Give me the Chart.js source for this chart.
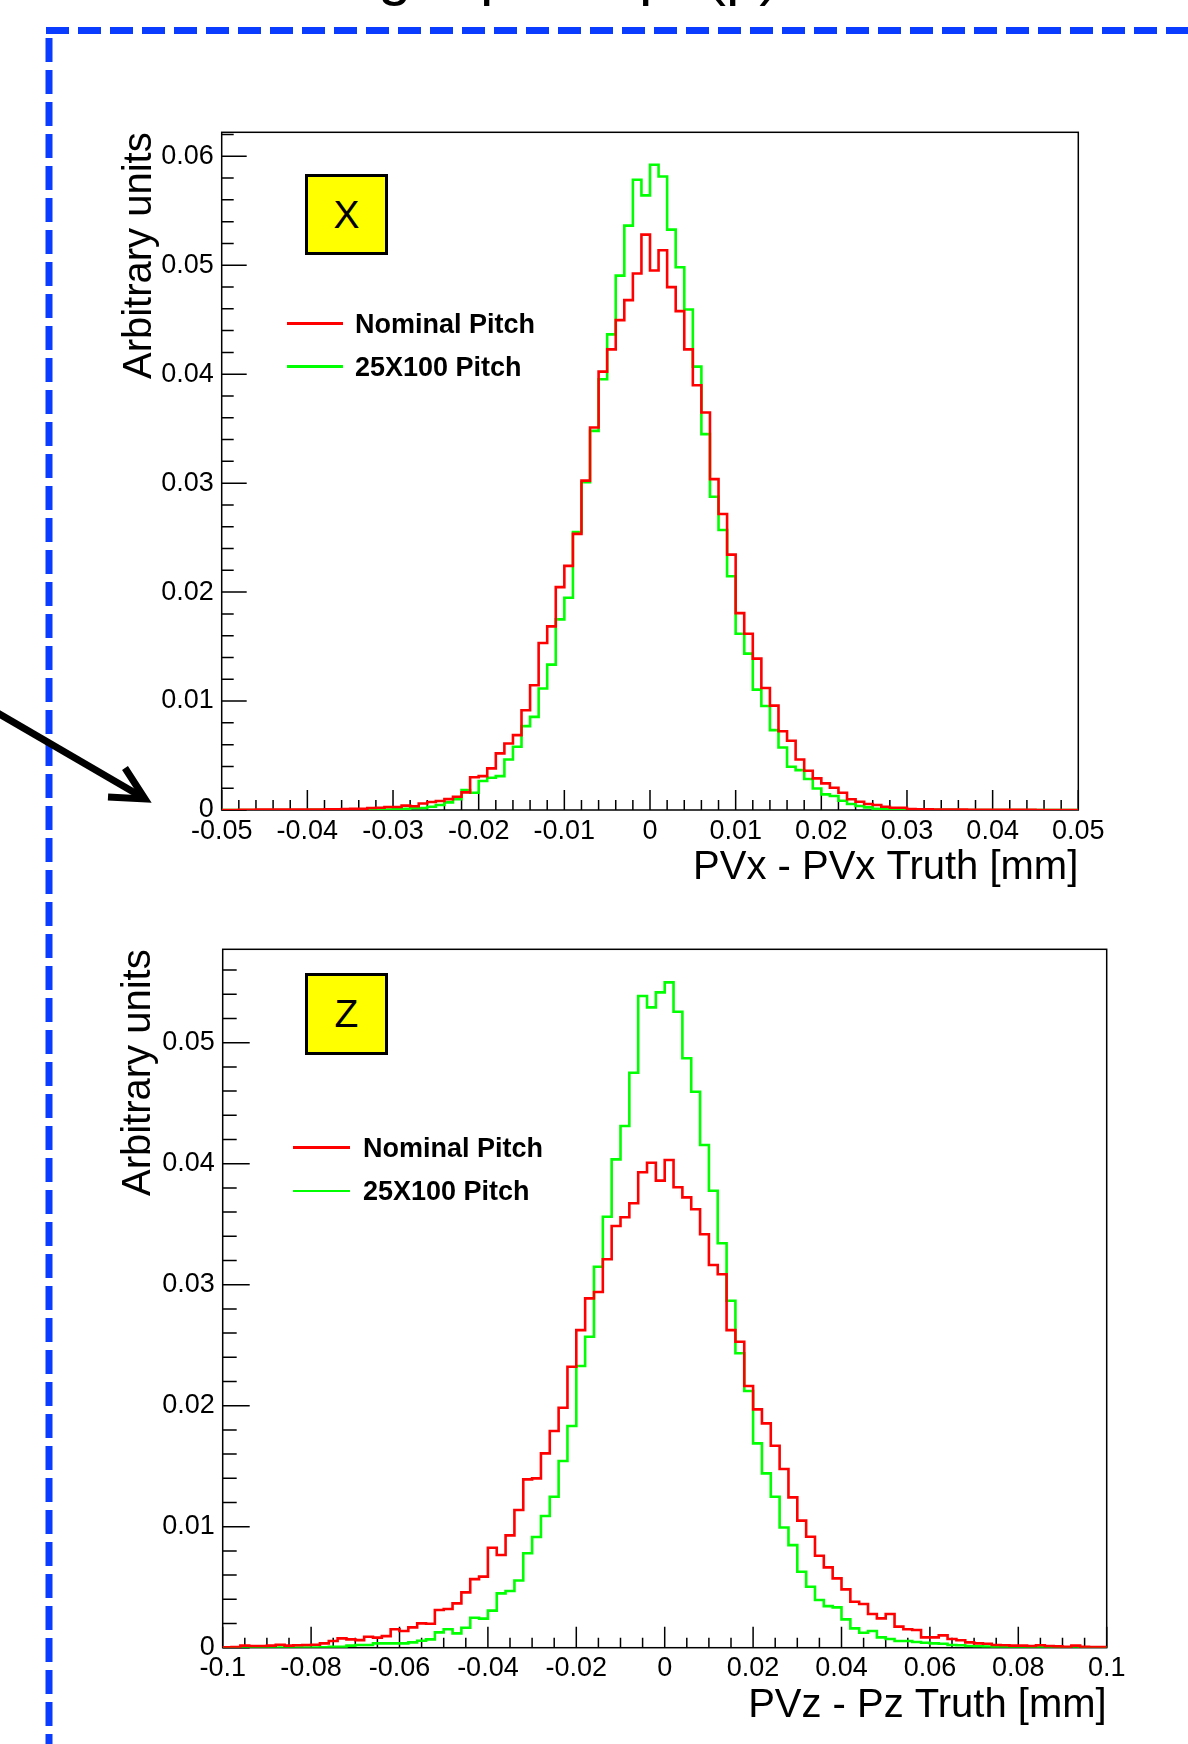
<!DOCTYPE html>
<html>
<head>
<meta charset="utf-8">
<script src="https://cdn.jsdelivr.net/npm/chart.js@4.4.1/dist/chart.umd.min.js"></script>
<style>
  html, body { margin: 0; padding: 0; background: #fff; }
  body { width: 1188px; height: 1744px; position: relative; overflow: hidden;
         font-family: "Liberation Sans", Arial, sans-serif; color: #000; }
  canvas { position: absolute; left: 0; }
  .frag { position: absolute; top: -56px; font-size: 60px; line-height: 1; }
  .tag { position: absolute; box-sizing: border-box; border: 3px solid #000; background: #ffff00;
         display: flex; align-items: center; justify-content: center; font-size: 39px; }
  .legLine { position: absolute; height: 2.5px; }
  .legText { position: absolute; font-weight: bold; font-size: 27px; line-height: 1;
             transform: translateY(-50%); white-space: nowrap; }
  svg { position: absolute; left: 0; top: 0; pointer-events: none; }
</style>
</head>
<body>

<!-- bottom edge of the slide title, cut off by the page top -->
<span class="frag" style="left:378px">g</span>
<span class="frag" style="left:480px">p</span>
<span class="frag" style="left:639px">p</span>
<span class="frag" style="left:706px">(p)</span>

<canvas id="histX" width="1188" height="900" style="top:0"></canvas>
<canvas id="histZ" width="1188" height="844" style="top:900px"></canvas>

<div class="tag" style="left:305px; top:174px; width:83px; height:81px">X</div>
<div class="tag" style="left:305px; top:973px; width:83px; height:82px">Z</div>

<div id="legends"></div>

<svg width="1188" height="1744">
  <line x1="46" y1="30.5" x2="1188" y2="30.5" stroke="#0a3cff" stroke-width="7" stroke-dasharray="23 9"/>
  <line x1="49" y1="38" x2="49" y2="1744" stroke="#0a3cff" stroke-width="7" stroke-dasharray="24 8"/>
  <line x1="-4" y1="712" x2="142" y2="797" stroke="#000" stroke-width="7"/>
  <polyline points="125,768 145,799 108,797" fill="none" stroke="#000" stroke-width="7" stroke-linejoin="miter"/>
</svg>

<script>
/* ---- data ---- */
const seriesLabels = ['Nominal Pitch', '25X100 Pitch'];
const seriesColors = ['#ff0000', '#00ff00'];

// PVx - PVx Truth : 100 bins from -0.05 to 0.05
const xRange = [-0.05, 0.05];
const xNominal = [
  0, 0, 0.00002, 0.00002, 0.00003, 0.00003, 0.00004, 0.00004, 0.00005, 0.00005,
  0.00005, 0.00005, 0.00006, 0.00006, 0.00008, 0.0001, 0.00011, 0.00018, 0.0002, 0.00027,
  0.00027, 0.0004, 0.00034, 0.0006, 0.00073, 0.00082, 0.001, 0.00122, 0.00162, 0.003,
  0.00311, 0.00382, 0.0052, 0.0061, 0.00687, 0.00916, 0.01145, 0.01533, 0.01685, 0.02046,
  0.02241, 0.02534, 0.03023, 0.0351, 0.04023, 0.04228, 0.04496, 0.0468, 0.04924, 0.05281,
  0.04951, 0.05137, 0.04799, 0.04579, 0.04228, 0.03898, 0.03648, 0.03037, 0.02717, 0.02344,
  0.01807, 0.01618, 0.01389, 0.0112, 0.00958, 0.00723, 0.00635, 0.00464, 0.0036, 0.0029,
  0.00244, 0.00204, 0.00159, 0.00098, 0.00076, 0.00055, 0.00046, 0.0003, 0.00021, 0.00021,
  0.00008, 0.00006, 0.00006, 0.00005, 0.00004, 0.00003, 0.00003, 0.00002, 0.00002, 0.00001,
  0.00001, 0.00001, 0.00001, 0.00001, 0.00001, 0, 0, 0, 0, 0
];
const xPitch25 = [
  0, 0, 0, 0, 0, 0, 0, 0, 0, 0,
  0.00001, 0.00002, 0.00002, 0.00003, 0.00003, 0.00004, 0.00005, 0.00006, 0.00007, 0.00005,
  0.00006, 0.00012, 0.00018, 0.00018, 0.0003, 0.00046, 0.0007, 0.001, 0.00183, 0.00159,
  0.00266, 0.00296, 0.00311, 0.00464, 0.0058, 0.0077, 0.00855, 0.01115, 0.01334, 0.0175,
  0.01948, 0.0255, 0.03008, 0.0348, 0.03953, 0.04365, 0.04905, 0.05363, 0.05784, 0.05641,
  0.05922, 0.05815, 0.05327, 0.04982, 0.04594, 0.04069, 0.0345, 0.02875, 0.0257, 0.02146,
  0.01618, 0.01435, 0.01105, 0.00955, 0.00733, 0.00574, 0.00397, 0.00366, 0.00284, 0.00198,
  0.00143, 0.00128, 0.00085, 0.00055, 0.00037, 0.00024, 0.00012, 0.00009, 0.00006, 0.00004,
  0.00003, 0.00003, 0.00002, 0.00002, 0.00001, 0.00001, 0, 0, 0, 0,
  0, 0, 0, 0, 0, 0, 0, 0, 0, 0
];
const xTicksX = [-0.05, -0.04, -0.03, -0.02, -0.01, 0, 0.01, 0.02, 0.03, 0.04, 0.05];
const xTickLabelsX = ['-0.05', '-0.04', '-0.03', '-0.02', '-0.01', '0', '0.01', '0.02', '0.03', '0.04', '0.05'];
const yTicksX = [0, 0.01, 0.02, 0.03, 0.04, 0.05, 0.06];
const yTickLabelsX = ['0', '0.01', '0.02', '0.03', '0.04', '0.05', '0.06'];

// PVz - Pz Truth : 100 bins from -0.1 to 0.1
const zRange = [-0.1, 0.1];
const zNominal = [
  0.00003, 0.00006, 0.00017, 0.00014, 0.00014, 0.00017, 0.00025, 0.00017, 0.0002, 0.00022,
  0.00025, 0.00036, 0.00055, 0.00077, 0.00069, 0.00063, 0.00091, 0.00083, 0.00096, 0.00152,
  0.00138, 0.00168, 0.00201, 0.00198, 0.00311, 0.0032, 0.00366, 0.00457, 0.00567, 0.00587,
  0.00826, 0.00766, 0.00928, 0.01138, 0.01391, 0.01399, 0.01606, 0.01791, 0.01983, 0.02322,
  0.02625, 0.02887, 0.0294, 0.0321, 0.03485, 0.03557, 0.03673, 0.03929, 0.04008, 0.0386,
  0.04031, 0.03805, 0.03722, 0.03623, 0.03417, 0.03163, 0.03086, 0.02625, 0.02529, 0.02163,
  0.0197, 0.01854, 0.01669, 0.01477, 0.01242, 0.0105, 0.00917, 0.0076, 0.00664, 0.00573,
  0.00482, 0.0038, 0.00361, 0.00278, 0.00242, 0.00278, 0.00174, 0.00152, 0.00146, 0.00085,
  0.00085, 0.00102, 0.00072, 0.00061, 0.00044, 0.00036, 0.00033, 0.00022, 0.0002, 0.00017,
  0.00017, 0.00014, 0.0002, 0.00014, 0.00011, 0.00008, 0.00017, 0.00008, 0.00006, 0.00006
];
const zPitch25 = [
  0.00001, 0.00001, 0.00002, 0.00002, 0.00002, 0.00002, 0.00002, 0.00002, 0.00002, 0.00002,
  0.00002, 0.00003, 0.00008, 0.00008, 0.00017, 0.00022, 0.00022, 0.00036, 0.00036, 0.00036,
  0.00036, 0.00044, 0.00058, 0.00069, 0.00127, 0.00152, 0.00118, 0.00165, 0.00248, 0.0024,
  0.00306, 0.00449, 0.00468, 0.00556, 0.0078, 0.00915, 0.01088, 0.01248, 0.01543, 0.01832,
  0.02328, 0.0257, 0.03149, 0.03562, 0.04036, 0.04312, 0.04752, 0.05386, 0.05292, 0.05416,
  0.05499, 0.05256, 0.04871, 0.04595, 0.04155, 0.03777, 0.03342, 0.02868, 0.02433, 0.02121,
  0.01689, 0.01441, 0.01248, 0.00994, 0.00848, 0.00628, 0.00504, 0.00394, 0.00344, 0.00333,
  0.00234, 0.0016, 0.00124, 0.00138, 0.00085, 0.00072, 0.00055, 0.00055, 0.00047, 0.00041,
  0.00036, 0.00033, 0.00022, 0.0002, 0.00014, 0.00012, 0.0001, 0.00008, 0.00006, 0.00005,
  0.00004, 0.00004, 0.00003, 0.00003, 0.00002, 0.00002, 0.00002, 0.00001, 0.00001, 0.00001
];
const xTicksZ = [-0.1, -0.08, -0.06, -0.04, -0.02, 0, 0.02, 0.04, 0.06, 0.08, 0.1];
const xTickLabelsZ = ['-0.1', '-0.08', '-0.06', '-0.04', '-0.02', '0', '0.02', '0.04', '0.06', '0.08', '0.1'];
const yTicksZ = [0, 0.01, 0.02, 0.03, 0.04, 0.05];
const yTickLabelsZ = ['0', '0.01', '0.02', '0.03', '0.04', '0.05'];

/* ---- ROOT-like frame with inward major/minor ticks ---- */
const rootFrame = {
  id: 'rootFrame',
  beforeDatasetsDraw(chart, args, o) {
    const { ctx, chartArea: a, scales: { x, y } } = chart;
    ctx.save();
    ctx.strokeStyle = '#000';
    ctx.lineWidth = 1.5;
    ctx.beginPath();
    for (let k = 0; k * o.yMinor <= y.max + 1e-9; k++) {
      const p = y.getPixelForValue(k * o.yMinor);
      const len = k % o.yPer === 0 ? o.yMajorLen : o.yMinorLen;
      ctx.moveTo(a.left, p);
      ctx.lineTo(a.left + len, p);
    }
    const n = Math.round((x.max - x.min) / o.xMinor);
    for (let k = 0; k <= n; k++) {
      const p = x.getPixelForValue(x.min + k * o.xMinor);
      const len = k % o.xPer === 0 ? o.xMajorLen : o.xMinorLen;
      ctx.moveTo(p, a.bottom);
      ctx.lineTo(p, a.bottom - len);
    }
    ctx.stroke();
    ctx.strokeRect(a.left, a.top, a.right - a.left, a.bottom - a.top);
    ctx.restore();
  }
};

const FONT = 'Liberation Sans';

function histPoints(values, range) {
  const w = (range[1] - range[0]) / values.length;
  const pts = values.map((v, i) => ({ x: range[0] + i * w, y: v }));
  pts.push({ x: range[1], y: values[values.length - 1] });
  return pts;
}

function createHisto(canvasId, c) {
  return new Chart(document.getElementById(canvasId), {
    type: 'line',
    data: {
      datasets: c.series.map((vals, i) => ({
        label: seriesLabels[i],
        data: histPoints(vals, c.range),
        borderColor: seriesColors[i],
        borderWidth: 2.6,
        stepped: true,
        pointRadius: 0,
        fill: false,
      })),
    },
    options: {
      responsive: false,
      animation: false,
      layout: { padding: c.padding },
      plugins: { legend: { display: false }, tooltip: { enabled: false }, rootFrame: c.frame },
      scales: {
        x: {
          type: 'linear', min: c.range[0], max: c.range[1],
          grid: { display: false, drawTicks: false }, border: { display: false },
          afterBuildTicks: s => { s.ticks = c.xTicks.map(v => ({ value: v })); },
          afterFit: s => { s.height = c.xAxisH; },
          ticks: { autoSkip: false, maxRotation: 0, padding: 5, color: '#000',
                   font: { family: FONT, size: 27 }, callback: (v, i) => c.xLabels[i] },
          title: { display: true, text: c.xTitle, align: 'end', color: '#000',
                   font: { family: FONT, size: 40 }, padding: { top: 0, bottom: 0 } },
        },
        y: {
          type: 'linear', min: 0, max: c.yMax,
          grid: { display: false, drawTicks: false }, border: { display: false },
          afterBuildTicks: s => { s.ticks = c.yTicks.map(v => ({ value: v })); },
          afterFit: s => { s.width = c.yAxisW; },
          ticks: { autoSkip: false, padding: 8, color: '#000',
                   font: { family: FONT, size: 27 }, callback: (v, i) => c.yLabels[i] },
          title: { display: true, text: 'Arbitrary units', align: 'end', color: '#000',
                   font: { family: FONT, size: 40 }, padding: { top: c.yTitlePad, bottom: 0 } },
        },
      },
    },
    plugins: [rootFrame],
  });
}

createHisto('histX', {
  range: xRange, series: [xNominal, xPitch25], yMax: 0.0622,
  xTicks: xTicksX, xLabels: xTickLabelsX, yTicks: yTicksX, yLabels: yTickLabelsX,
  xTitle: 'PVx - PVx Truth [mm]',
  padding: { left: 0, top: 132.3, right: 109.7, bottom: 8 },
  yAxisW: 221.7, xAxisH: 82, yTitlePad: 116,
  frame: { yMinor: 0.002, yPer: 5, yMajorLen: 25, yMinorLen: 12,
           xMinor: 0.002, xPer: 5, xMajorLen: 20, xMinorLen: 10 },
});

createHisto('histZ', {
  range: zRange, series: [zNominal, zPitch25], yMax: 0.05772,
  xTicks: xTicksZ, xLabels: xTickLabelsZ, yTicks: yTicksZ, yLabels: yTickLabelsZ,
  xTitle: 'PVz - Pz Truth [mm]',
  padding: { left: 0, top: 49.3, right: 81.3, bottom: 14 },
  yAxisW: 222.7, xAxisH: 82.3, yTitlePad: 115,
  frame: { yMinor: 0.002, yPer: 5, yMajorLen: 27, yMinorLen: 14,
           xMinor: 0.005, xPer: 4, xMajorLen: 21, xMinorLen: 10 },
});

/* ---- in-frame legends ---- */
const legendSpots = [
  { lineX: 287, lineW: 56, textX: 355, ys: [323.5, 366.5] },
  { lineX: 293, lineW: 57, textX: 363, ys: [1147.5, 1191] },
];
const legHost = document.getElementById('legends');
legendSpots.forEach(spot => {
  seriesLabels.forEach((label, i) => {
    const ln = document.createElement('div');
    ln.className = 'legLine';
    ln.style.cssText = `left:${spot.lineX}px;top:${spot.ys[i] - 1.25}px;width:${spot.lineW}px;background:${seriesColors[i]}`;
    const tx = document.createElement('div');
    tx.className = 'legText';
    tx.style.cssText = `left:${spot.textX}px;top:${spot.ys[i]}px`;
    tx.textContent = label;
    legHost.appendChild(ln);
    legHost.appendChild(tx);
  });
});
</script>
</body>
</html>
